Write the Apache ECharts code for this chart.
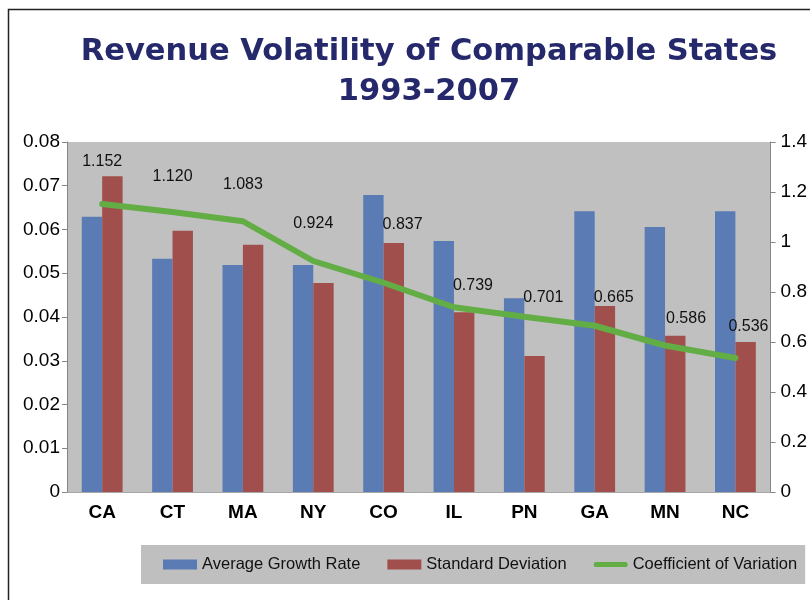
<!DOCTYPE html>
<html>
<head>
<meta charset="utf-8">
<script src="https://cdn.jsdelivr.net/npm/echarts@6/dist/echarts.min.js"></script>
<style>
  html, body { margin: 0; padding: 0; background: #fff; }
  #chart { width: 810px; height: 600px; }
</style>
</head>
<body>
<div id="chart"></div>
<script>
// data
const states = ["CA", "CT", "MA", "NY", "CO", "IL", "PN", "GA", "MN", "NC"]
const avgGrowth = [0.0629, 0.0533, 0.0519, 0.0519, 0.0679, 0.0574, 0.0443, 0.0642, 0.0606, 0.0642]
const stdDev = [0.0722, 0.0597, 0.0565, 0.0478, 0.0569, 0.0411, 0.0311, 0.0425, 0.0357, 0.0343]
const coefVar = [1.152, 1.120, 1.083, 0.924, 0.837, 0.739, 0.701, 0.665, 0.586, 0.536]
const leftTicks = ["0", "0.01", "0.02", "0.03", "0.04", "0.05", "0.06", "0.07", "0.08"]
const rightTicks = ["0", "0.2", "0.4", "0.6", "0.8", "1", "1.2", "1.4"]

// hand-placed data labels (offset from point, px)
const labelShift = [[0, -29], [0, -22], [0, -23], [0, -24], [19, -45], [19, -8], [19, -6], [19, -15], [21, -13], [13, -18]]

const sans = '"Liberation Sans", Arial, sans-serif'

const myChart = echarts.init(document.getElementById("chart"))

const option = {
  animation: false,
  backgroundColor: "#fff",
  title: {
    text: "Revenue Volatility of Comparable States\n1993-2007",
    left: 424,
    top: 27,
    textAlign: "center",
    textStyle: {
      fontFamily: '"DejaVu Sans", sans-serif',
      fontWeight: "bold",
      fontSize: 30.5,
      lineHeight: 40,
      color: "#25286a"
    }
  },
  graphic: [
    {
      type: "rect",
      silent: true,
      shape: { x: 8.5, y: 9.5, width: 900, height: 700 },
      style: { fill: "none", stroke: "#222", lineWidth: 1.5 }
    }
  ],
  legend: {
    left: 141,
    top: 545,
    padding: [11, 8, 11, 22],
    backgroundColor: "#bfbfbf",
    itemWidth: 34,
    itemHeight: 10,
    itemGap: 27,
    textStyle: { fontFamily: sans, fontSize: 16.5, color: "#111" },
    data: [
      { name: "Average Growth Rate", icon: "rect" },
      { name: "Standard Deviation", icon: "rect" },
      {
        name: "Coefficient of Variation",
        icon: "path://M3,0 H37 A3,3 0 0 1 37,6 H3 A3,3 0 0 1 3,0 Z",
        itemStyle: { color: "#63ad45" }
      }
    ]
  },
  grid: { left: 67, right: 37, top: 142, bottom: 108, show: true, backgroundColor: "#c0c0c0", borderWidth: 0 },
  xAxis: {
    type: "category",
    data: states,
    axisLine: { lineStyle: { color: "#a6a6a6" } },
    axisTick: { show: false },
    axisLabel: { fontFamily: sans, fontWeight: "bold", fontSize: 19, color: "#000", margin: 11 }
  },
  yAxis: [
    {
      type: "value",
      min: 0,
      max: 0.08,
      interval: 0.01,
      axisLine: { show: true, lineStyle: { color: "#868686" } },
      axisTick: { show: true, length: 5, lineStyle: { color: "#868686" } },
      splitLine: { show: false },
      axisLabel: {
        fontFamily: sans,
        fontSize: 19,
        color: "#000",
        margin: 7,
        formatter: (v, i) => leftTicks[i]
      }
    },
    {
      type: "value",
      min: 0,
      max: 1.4,
      interval: 0.2,
      position: "right",
      axisLine: { show: true, lineStyle: { color: "#868686" } },
      axisTick: { show: true, length: 5, lineStyle: { color: "#868686" } },
      splitLine: { show: false },
      axisLabel: {
        fontFamily: sans,
        fontSize: 19,
        color: "#000",
        margin: 10,
        formatter: (v, i) => rightTicks[i]
      }
    }
  ],
  series: [
    {
      name: "Average Growth Rate",
      type: "bar",
      data: avgGrowth,
      barWidth: "29%",
      barGap: "0%",
      itemStyle: { color: "#5b7bb4" }
    },
    {
      name: "Standard Deviation",
      type: "bar",
      data: stdDev,
      barWidth: "29%",
      itemStyle: { color: "#a14f4c" }
    },
    {
      name: "Coefficient of Variation",
      type: "line",
      yAxisIndex: 1,
      z: 5,
      symbol: "circle",
      symbolSize: 1,
      itemStyle: { color: "#63ad45" },
      lineStyle: { width: 6, color: "#63ad45", cap: "round" },
      data: coefVar.map((v, i) => ({
        value: v,
        label: { offset: labelShift[i] }
      })),
      label: {
        show: true,
        position: "top",
        distance: 5,
        fontFamily: sans,
        fontSize: 16,
        color: "#111",
        formatter: (p) => p.value.toFixed(3)
      }
    }
  ]
}

myChart.setOption(option)
</script>
</body>
</html>
